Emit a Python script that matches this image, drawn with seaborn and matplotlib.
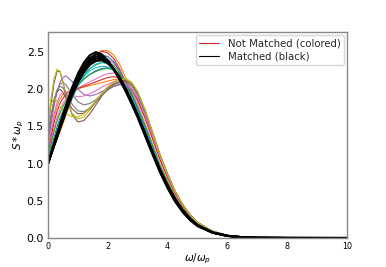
import numpy as np
import pandas as pd
import matplotlib
matplotlib.use("Agg")
import matplotlib.pyplot as plt
from matplotlib.lines import Line2D
import seaborn as sns

# x grid (omega / omega_p)
x_vals = [0, .1, .2, .3, .4, .5, .6, .8, 1.0, 1.2, 1.4, 1.6, 1.8, 2.0, 2.2, 2.4, 2.6, 2.8,
          3.0, 3.25, 3.5, 3.75, 4.0, 4.25, 4.5, 4.75, 5.0, 5.5, 6.0, 6.5, 7.0, 8.0, 10.0]

# Matched spectra (black)
matched = [
    [1.00, 1.13, 1.27, 1.40, 1.53, 1.66, 1.78, 2.02, 2.21, 2.36, 2.46, 2.50, 2.47, 2.39, 2.27, 2.13, 1.97, 1.80, 1.62, 1.37, 1.12, 0.88, 0.67, 0.49, 0.35, 0.24, 0.16, 0.07, 0.027, 0.010, 0.004, 0.001, 0.0],
    [1.00, 1.13, 1.26, 1.39, 1.52, 1.64, 1.76, 1.99, 2.18, 2.32, 2.42, 2.47, 2.45, 2.38, 2.27, 2.13, 1.98, 1.81, 1.63, 1.38, 1.13, 0.89, 0.68, 0.50, 0.36, 0.25, 0.165, 0.072, 0.028, 0.010, 0.004, 0.001, 0.0],
    [1.00, 1.13, 1.25, 1.38, 1.50, 1.62, 1.74, 1.96, 2.15, 2.29, 2.39, 2.44, 2.43, 2.37, 2.27, 2.14, 1.99, 1.82, 1.64, 1.39, 1.14, 0.90, 0.69, 0.51, 0.36, 0.25, 0.17, 0.074, 0.029, 0.011, 0.004, 0.001, 0.0],
    [1.00, 1.12, 1.24, 1.36, 1.48, 1.60, 1.72, 1.93, 2.12, 2.26, 2.36, 2.41, 2.41, 2.36, 2.27, 2.15, 2.00, 1.83, 1.65, 1.40, 1.15, 0.91, 0.70, 0.52, 0.37, 0.26, 0.17, 0.075, 0.029, 0.011, 0.004, 0.001, 0.0],
    [1.00, 1.12, 1.24, 1.35, 1.47, 1.58, 1.70, 1.91, 2.09, 2.23, 2.33, 2.38, 2.39, 2.35, 2.27, 2.16, 2.01, 1.84, 1.66, 1.41, 1.16, 0.92, 0.71, 0.53, 0.38, 0.26, 0.175, 0.077, 0.030, 0.011, 0.004, 0.001, 0.0],
]

# Not matched spectra (colored)
not_matched = [
    [1.00, 1.12, 1.24, 1.36, 1.48, 1.60, 1.71, 1.92, 2.10, 2.25, 2.36, 2.43, 2.46, 2.44, 2.37, 2.24, 2.07, 1.88, 1.68, 1.42, 1.16, 0.91, 0.70, 0.51, 0.36, 0.25, 0.17, 0.073, 0.028, 0.010, 0.004, 0.001, 0.0],
    [1.00, 1.10, 1.21, 1.32, 1.43, 1.54, 1.65, 1.87, 2.07, 2.24, 2.38, 2.47, 2.52, 2.52, 2.46, 2.33, 2.15, 1.94, 1.72, 1.44, 1.17, 0.91, 0.69, 0.50, 0.35, 0.24, 0.16, 0.07, 0.027, 0.012, 0.006, 0.002, 0.0],
    [1.05, 1.18, 1.31, 1.44, 1.56, 1.67, 1.77, 1.95, 2.09, 2.20, 2.28, 2.33, 2.36, 2.36, 2.32, 2.22, 2.07, 1.89, 1.69, 1.43, 1.17, 0.92, 0.70, 0.51, 0.36, 0.25, 0.17, 0.074, 0.028, 0.010, 0.004, 0.001, 0.0],
    [1.00, 1.11, 1.22, 1.34, 1.45, 1.57, 1.68, 1.90, 2.10, 2.27, 2.40, 2.48, 2.51, 2.49, 2.41, 2.27, 2.09, 1.89, 1.68, 1.41, 1.15, 0.90, 0.68, 0.50, 0.35, 0.24, 0.16, 0.07, 0.027, 0.010, 0.004, 0.001, 0.0],
    [1.02, 1.14, 1.26, 1.38, 1.50, 1.61, 1.72, 1.92, 2.09, 2.23, 2.33, 2.39, 2.41, 2.40, 2.35, 2.25, 2.10, 1.93, 1.74, 1.48, 1.22, 0.96, 0.74, 0.55, 0.39, 0.27, 0.18, 0.08, 0.031, 0.011, 0.004, 0.001, 0.0],
    [1.50, 1.80, 2.08, 2.24, 2.24, 2.10, 1.92, 1.66, 1.56, 1.58, 1.67, 1.79, 1.91, 2.01, 2.08, 2.12, 2.13, 2.08, 1.96, 1.72, 1.42, 1.12, 0.86, 0.63, 0.45, 0.31, 0.21, 0.09, 0.035, 0.013, 0.005, 0.001, 0.0],
    [1.10, 1.30, 1.48, 1.62, 1.73, 1.81, 1.87, 1.95, 2.01, 2.06, 2.10, 2.14, 2.18, 2.21, 2.22, 2.19, 2.11, 1.97, 1.80, 1.54, 1.26, 0.99, 0.76, 0.56, 0.40, 0.28, 0.19, 0.082, 0.032, 0.012, 0.004, 0.001, 0.0],
    [1.30, 1.58, 1.82, 1.98, 2.07, 2.09, 2.06, 1.94, 1.83, 1.79, 1.81, 1.86, 1.93, 1.99, 2.04, 2.07, 2.06, 2.00, 1.88, 1.65, 1.37, 1.09, 0.84, 0.62, 0.44, 0.31, 0.21, 0.09, 0.035, 0.013, 0.005, 0.001, 0.0],
    [1.58, 1.88, 2.14, 2.27, 2.24, 2.08, 1.90, 1.68, 1.60, 1.63, 1.72, 1.84, 1.95, 2.04, 2.10, 2.14, 2.15, 2.09, 1.96, 1.70, 1.39, 1.09, 0.83, 0.61, 0.44, 0.30, 0.20, 0.088, 0.034, 0.013, 0.005, 0.001, 0.0],
    [1.00, 1.11, 1.23, 1.34, 1.45, 1.56, 1.67, 1.87, 2.04, 2.18, 2.28, 2.34, 2.36, 2.34, 2.28, 2.17, 2.03, 1.86, 1.67, 1.42, 1.17, 0.93, 0.71, 0.53, 0.38, 0.26, 0.17, 0.076, 0.029, 0.011, 0.004, 0.001, 0.0],
    [1.05, 1.20, 1.35, 1.49, 1.61, 1.71, 1.80, 1.94, 2.05, 2.14, 2.20, 2.25, 2.28, 2.29, 2.27, 2.20, 2.08, 1.92, 1.73, 1.48, 1.21, 0.95, 0.73, 0.54, 0.38, 0.27, 0.18, 0.078, 0.030, 0.011, 0.004, 0.001, 0.0],
    [1.20, 1.42, 1.62, 1.77, 1.87, 1.93, 1.96, 1.99, 2.01, 2.03, 2.05, 2.07, 2.09, 2.11, 2.13, 2.13, 2.09, 1.99, 1.85, 1.61, 1.33, 1.05, 0.81, 0.60, 0.43, 0.30, 0.20, 0.087, 0.034, 0.013, 0.005, 0.001, 0.0],
    [1.08, 1.26, 1.43, 1.57, 1.68, 1.77, 1.84, 1.96, 2.06, 2.14, 2.20, 2.24, 2.27, 2.28, 2.26, 2.20, 2.09, 1.94, 1.76, 1.51, 1.24, 0.97, 0.75, 0.55, 0.39, 0.27, 0.18, 0.08, 0.031, 0.011, 0.004, 0.001, 0.0],
    [1.15, 1.36, 1.55, 1.70, 1.81, 1.88, 1.93, 1.98, 2.01, 2.04, 2.07, 2.10, 2.13, 2.16, 2.17, 2.15, 2.10, 2.00, 1.85, 1.61, 1.33, 1.05, 0.81, 0.60, 0.43, 0.30, 0.20, 0.087, 0.034, 0.013, 0.005, 0.001, 0.0],
    [1.25, 1.52, 1.77, 1.96, 2.09, 2.16, 2.18, 2.11, 2.00, 1.93, 1.91, 1.93, 1.97, 2.01, 2.04, 2.06, 2.05, 1.99, 1.88, 1.65, 1.38, 1.10, 0.85, 0.63, 0.45, 0.32, 0.21, 0.092, 0.036, 0.013, 0.005, 0.001, 0.0],
    [1.40, 1.65, 1.85, 1.97, 2.00, 1.96, 1.88, 1.74, 1.67, 1.68, 1.74, 1.83, 1.92, 2.00, 2.06, 2.10, 2.11, 2.06, 1.94, 1.70, 1.41, 1.11, 0.86, 0.63, 0.45, 0.31, 0.21, 0.09, 0.035, 0.013, 0.005, 0.001, 0.0],
    [1.20, 1.44, 1.66, 1.82, 1.92, 1.96, 1.96, 1.92, 1.90, 1.91, 1.94, 1.98, 2.03, 2.07, 2.10, 2.11, 2.08, 2.01, 1.89, 1.65, 1.37, 1.09, 0.84, 0.62, 0.45, 0.31, 0.21, 0.09, 0.035, 0.013, 0.005, 0.001, 0.0],
    [1.35, 1.62, 1.85, 1.99, 2.04, 2.02, 1.95, 1.80, 1.71, 1.70, 1.75, 1.83, 1.92, 2.00, 2.06, 2.09, 2.09, 2.04, 1.92, 1.68, 1.40, 1.11, 0.85, 0.63, 0.45, 0.31, 0.21, 0.09, 0.035, 0.013, 0.005, 0.001, 0.0],
    [1.55, 1.80, 1.88, 1.84, 1.77, 1.71, 1.67, 1.63, 1.63, 1.67, 1.75, 1.85, 1.95, 2.03, 2.09, 2.13, 2.14, 2.09, 1.97, 1.72, 1.41, 1.11, 0.85, 0.63, 0.45, 0.31, 0.21, 0.09, 0.035, 0.013, 0.005, 0.001, 0.0],
    [1.02, 1.15, 1.28, 1.40, 1.52, 1.63, 1.73, 1.91, 2.06, 2.17, 2.25, 2.29, 2.31, 2.30, 2.25, 2.16, 2.03, 1.88, 1.70, 1.45, 1.19, 0.94, 0.72, 0.53, 0.38, 0.27, 0.18, 0.077, 0.030, 0.011, 0.004, 0.001, 0.0],
]

legend_labels = ["Not Matched (colored)", "Matched (black)"]
x_label = r"$\omega/\omega_p$"
y_label = r"$S*\omega_p$"
x_ticks = [0, 2, 4, 6, 8, 10]
y_ticks = [0.0, 0.5, 1.0, 1.5, 2.0, 2.5]

sns.set_theme(style="white")
plt.rcParams['font.family'] = ['DejaVu Sans']

def to_long(curves, prefix):
    rows = []
    for i, ys in enumerate(curves):
        for xv, yv in zip(x_vals, ys):
            rows.append((f"{prefix}{i}", xv, yv))
    return pd.DataFrame(rows, columns=["curve", "x", "y"])

df_nm = to_long(not_matched, "nm")
df_m = to_long(matched, "m")

tab10 = sns.color_palette("tab10", 10)
nm_palette = {f"nm{i}": tab10[i % 10] for i in range(len(not_matched))}
m_palette = {f"m{i}": "black" for i in range(len(matched))}

fig = plt.figure(figsize=(3.86, 2.67), dpi=100)
ax = fig.add_axes([0.1244, 0.1086, 0.7746, 0.7714])

sns.lineplot(data=df_nm, x="x", y="y", hue="curve", palette=nm_palette,
             estimator=None, sort=False, legend=False, linewidth=0.8, ax=ax)
sns.lineplot(data=df_m, x="x", y="y", hue="curve", palette=m_palette,
             estimator=None, sort=False, legend=False, linewidth=1.5, ax=ax)

ax.set_xlim(0, 10)
ax.set_ylim(0, 2.77)
ax.set_xticks(x_ticks)
ax.set_yticks(y_ticks)
ax.set_xticklabels([str(t) for t in x_ticks], fontsize=5.8, color="black")
ax.set_yticklabels([f"{t:.1f}" for t in y_ticks], fontsize=7.8, color="black")
ax.tick_params(axis="both", length=1.5, width=0.6, color="#808080", pad=1.5)
ax.set_xlabel(x_label, fontsize=7.5, labelpad=0.5, color="black")
ax.set_ylabel(y_label, fontsize=7.5, labelpad=0, color="black")
for s in ax.spines.values():
    s.set_color("#888888")
    s.set_linewidth(1.0)

handles = [Line2D([0], [0], color="#d62728", lw=0.8),
           Line2D([0], [0], color="black", lw=0.8)]
ax.legend(handles, legend_labels, loc="upper right", fontsize=7.3,
          frameon=True, framealpha=0.8, borderpad=0.35, labelspacing=0.3,
          handlelength=2.0, borderaxespad=0.3)

fig.savefig("out.png", dpi=100)
